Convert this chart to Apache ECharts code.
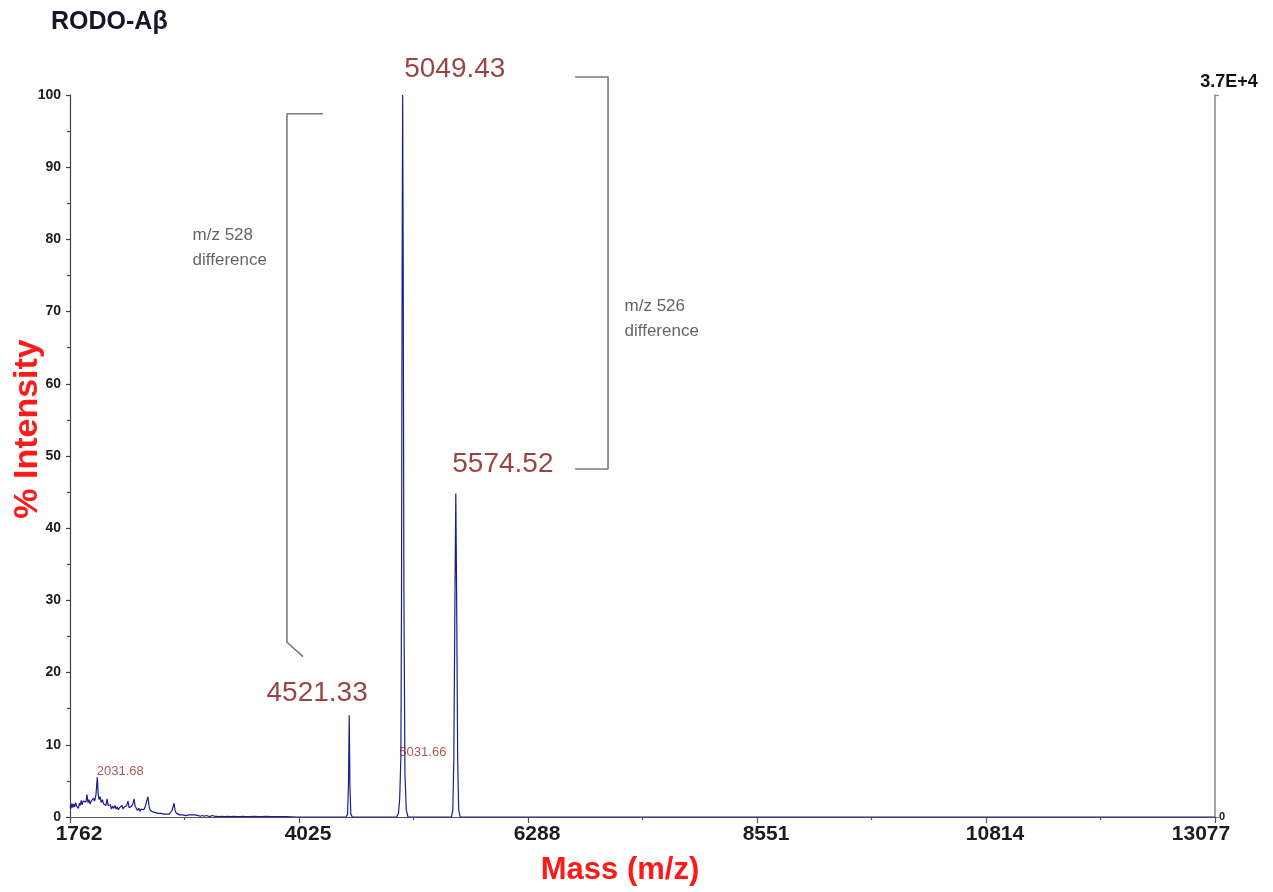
<!DOCTYPE html>
<html>
<head>
<meta charset="utf-8">
<script src="https://cdn.jsdelivr.net/npm/echarts@6/dist/echarts.min.js"></script>
<style>
  html, body { margin: 0; padding: 0; background: #fff; }
  #chart { width: 1273px; height: 892px; }
</style>
</head>
<body>
<div id="chart"></div>
<script>
// ---------- data ----------
const chartTitle = 'RODO-Aβ';
const xTicks = [1762, 4025, 6288, 8551, 10814, 13077];
const yTicks = [0, 10, 20, 30, 40, 50, 60, 70, 80, 90, 100];
const fullScaleCounts = 37000;      // right axis top: 3.7E+4

// spectrum: [mass (m/z), % intensity]
const spectrum = [
  [1762, 1.6], [1772, 1.2], [1781, 1.9], [1790, 1.3], [1799, 1.8], [1808, 1.4], [1818, 2.0],
  [1827, 1.5], [1836, 1.7], [1845, 1.2], [1855, 1.9], [1864, 1.6], [1873, 2.3], [1882, 1.7],
  [1892, 2.2], [1901, 2.0], [1910, 2.4], [1920, 2.1], [1930, 3.1], [1940, 2.0], [1950, 2.4],
  [1960, 1.8], [1972, 2.2], [1985, 2.0], [1995, 2.6], [2005, 2.2], [2018, 3.0], [2031.68, 5.5],
  [2040, 3.2], [2050, 2.4], [2060, 2.8], [2070, 2.0], [2082, 2.4], [2094, 1.8], [2106, 2.0],
  [2117, 1.6], [2128, 2.5], [2139, 1.6], [2150, 1.4], [2161, 1.7], [2172, 1.1], [2183, 1.5],
  [2195, 1.2], [2206, 1.6], [2218, 1.1], [2229, 1.4], [2240, 1.0], [2252, 1.3], [2263, 1.2],
  [2275, 1.6], [2286, 1.1], [2298, 1.4], [2310, 1.2], [2322, 1.6], [2335, 2.2], [2346, 1.3],
  [2358, 1.2], [2370, 1.5], [2383, 1.8], [2395, 2.5], [2406, 1.5], [2418, 1.2], [2430, 0.9],
  [2442, 1.2], [2454, 0.8], [2466, 1.1], [2478, 0.9], [2490, 1.0], [2502, 1.3], [2515, 1.4],
  [2533, 2.8], [2545, 1.3], [2557, 0.9], [2570, 1.0], [2582, 0.7], [2595, 0.9], [2608, 0.6],
  [2620, 0.8], [2633, 0.5], [2646, 0.7], [2660, 0.5], [2673, 0.6], [2686, 0.4], [2700, 0.6],
  [2714, 0.4], [2728, 0.5], [2742, 0.4], [2756, 0.6], [2770, 0.9], [2790, 1.9], [2802, 0.8],
  [2815, 0.5], [2830, 0.4], [2845, 0.3], [2860, 0.5], [2875, 0.3], [2890, 0.4], [2905, 0.2],
  [2920, 0.4], [2935, 0.3], [2950, 0.2], [2965, 0.3], [2980, 0.2], [2995, 0.3], [3010, 0.2],
  [3030, 0.2], [3050, 0.1], [3070, 0.2], [3090, 0.1], [3110, 0.2], [3130, 0.1], [3150, 0.1],
  [3170, 0.2], [3190, 0.1], [3215, 0.1], [3240, 0.05], [3265, 0.1], [3290, 0.05], [3320, 0.1],
  [3350, 0.05], [3380, 0.1], [3410, 0.05], [3440, 0.05], [3470, 0.1], [3500, 0.05], [3540, 0.05],
  [3580, 0.1], [3620, 0.05], [3660, 0.05], [3700, 0.1], [3740, 0.05], [3800, 0.05], [3900, 0.05],
  [4000, 0.0], [4200, 0.0], [4490, 0.0],
  [4505, 0.4], [4514, 4.5], [4521.33, 14.1], [4528, 4.5], [4537, 0.4], [4552, 0.0],
  [4990, 0.0], [5008, 0.5], [5020, 2.5], [5031.66, 8.3], [5038, 30], [5044, 75], [5049.43, 100],
  [5055, 75], [5062, 30], [5072, 6], [5085, 1.0], [5102, 0.0],
  [5532, 0.0], [5545, 1.0], [5555, 8], [5566, 30], [5574.52, 44.8], [5583, 30], [5593, 8],
  [5603, 1.0], [5618, 0.0], [6000, 0.0], [13077, 0.0]
];

// labelled peaks
const peakMass = [2031.68, 4521.33, 5031.66, 5049.43, 5574.52];
const peakIntensity = [5.5, 14.1, 8.3, 100, 44.8];
const peakLabels = ['2031.68', '4521.33', '5031.66', '5049.43', '5574.52'];

// difference brackets (mass, % intensity)
const bracket528 = [[4262, 97.4], [3906, 97.4], [3906, 24.2], [4065, 22.2]];
const bracket526 = [[6753, 102.5], [7079, 102.5], [7079, 48.2], [6753, 48.2]];

// bracket notes
const noteText = ['m/z 528\ndifference', 'm/z 526\ndifference'];
const noteMass = [2978, 7247];
const noteIntensity = [82.2, 72.4];

// ---------- styles ----------
const FONT = 'Arial, "Liberation Sans", Helvetica, sans-serif';
const bigLabel = { fontSize: 28, color: '#7e1515' };
const smallLabel = { fontSize: 13, color: '#992b2b' };
const peakLabelStyle = [
  Object.assign({ align: 'left', offset: [0, 1] }, smallLabel),
  Object.assign({ align: 'right', offset: [19, -7] }, bigLabel),
  Object.assign({ align: 'left', offset: [-1, 2] }, smallLabel),
  Object.assign({ align: 'left', offset: [2, -11] }, bigLabel),
  Object.assign({ align: 'left', offset: [-3, -15] }, bigLabel)
];

const peakData = peakMass.map((m, i) => ({
  value: [m, peakIntensity[i]],
  name: peakLabels[i],
  label: Object.assign({
    show: true,
    position: [0, 0],
    verticalAlign: 'bottom',
    fontFamily: FONT,
    formatter: '{b}'
  }, peakLabelStyle[i])
}));

const noteData = noteText.map((t, i) => ({
  value: [noteMass[i], noteIntensity[i]],
  name: t
}));

const bracketSeries = (data) => ({
  type: 'line',
  data: data,
  symbol: 'none',
  clip: false,
  silent: true,
  z: 1,
  lineStyle: { color: '#7a7a7a', width: 1.6 },
  animation: false
});

const chart = echarts.init(document.getElementById('chart'), null, { renderer: 'canvas' });

const option = {
  animation: false,
  backgroundColor: '#ffffff',
  textStyle: { fontFamily: FONT },
  title: {
    text: chartTitle,
    left: 51, top: 10, padding: 0,
    textStyle: { fontSize: 25, fontWeight: 'bold', color: '#16162a', fontFamily: FONT }
  },
  grid: { left: 70, right: 58, top: 95, bottom: 75, containLabel: false, outerBoundsMode: 'none' },
  xAxis: {
    type: 'value',
    min: xTicks[0],
    max: xTicks[xTicks.length - 1],
    interval: xTicks[1] - xTicks[0],
    name: 'Mass (m/z)',
    nameLocation: 'middle',
    nameGap: 38,
    nameMoveOverlap: false,
    nameTextStyle: { fontSize: 31, fontWeight: 'bold', color: '#ff1a1a', fontFamily: FONT, padding: [0, 45, 0, 0] },
    axisLine: { show: true, lineStyle: { color: '#555', width: 1.2 } },
    axisTick: { show: true, length: 6, inside: false, lineStyle: { color: '#555', width: 1.2 } },
    minorTick: { show: true, splitNumber: 2, length: 3, lineStyle: { color: '#555', width: 1.2 } },
    splitLine: { show: false },
    minorSplitLine: { show: false },
    axisLabel: {
      show: true, margin: 7, hideOverlap: false,
      showMinLabel: true, showMaxLabel: true,
      formatter: (v, idx) => (v === xTicks[xTicks.length - 1] ? '{b|' + v + '}' : '{a|' + v + '}'),
      rich: {
        a: { fontSize: 21, fontWeight: 'bold', color: '#1c1c1c', fontFamily: FONT, padding: [0, 0, 0, 18] },
        b: { fontSize: 21, fontWeight: 'bold', color: '#1c1c1c', fontFamily: FONT, padding: [0, 28, 0, 0] }
      }
    }
  },
  yAxis: [
    {
      type: 'value',
      min: yTicks[0],
      max: yTicks[yTicks.length - 1],
      interval: yTicks[1] - yTicks[0],
      name: '% Intensity',
      nameLocation: 'middle',
      nameRotate: 90,
      nameGap: 25,
      nameMoveOverlap: false,
      nameTextStyle: { fontSize: 34, fontWeight: 'bold', color: '#ff1a1a', fontFamily: FONT, padding: [0, 0, 0, 54] },
      axisLine: { show: true, lineStyle: { color: '#444', width: 1.2 } },
      axisTick: { show: true, length: 4, lineStyle: { color: '#444', width: 1.2 } },
      minorTick: { show: true, splitNumber: 2, length: 3, lineStyle: { color: '#444', width: 1.2 } },
      splitLine: { show: false },
      minorSplitLine: { show: false },
      axisLabel: { margin: 9, fontSize: 14, fontWeight: 'bold', color: '#1c1c1c', fontFamily: FONT }
    },
    {
      type: 'value',
      position: 'right',
      min: 0,
      max: fullScaleCounts,
      interval: fullScaleCounts,
      name: '3.7E+4',
      nameLocation: 'end',
      nameGap: 4,
      nameTextStyle: { fontSize: 18, fontWeight: 'bold', color: '#111', fontFamily: FONT, align: 'center', padding: [0, 0, 0, 28] },
      axisLine: { show: true, lineStyle: { color: '#8a8a8a', width: 1.5 } },
      axisTick: { show: true, length: 4, lineStyle: { color: '#8a8a8a', width: 1.2 } },
      splitLine: { show: false },
      axisLabel: {
        margin: 4, fontSize: 11, fontWeight: 'bold', color: '#222', fontFamily: FONT,
        formatter: (v) => (v === 0 ? '0' : '')
      }
    }
  ],
  series: [
    {
      name: 'spectrum',
      type: 'line',
      data: spectrum,
      symbol: 'none',
      z: 3,
      lineStyle: { color: '#1c1c8e', width: 1.2 },
      animation: false
    },
    bracketSeries(bracket528),
    bracketSeries(bracket526),
    {
      name: 'peaks',
      type: 'scatter',
      data: peakData,
      symbolSize: 1,
      itemStyle: { color: 'rgba(0,0,0,0)' },
      silent: true,
      z: 5,
      animation: false
    },
    {
      name: 'notes',
      type: 'scatter',
      data: noteData,
      symbolSize: 1,
      itemStyle: { color: 'rgba(0,0,0,0)' },
      silent: true,
      z: 5,
      label: {
        show: true, position: [0, 0], align: 'left', verticalAlign: 'top',
        formatter: '{b}', fontSize: 17, lineHeight: 25, color: '#3c3c3c', fontFamily: FONT
      },
      animation: false
    }
  ]
};

chart.setOption(option);
</script>
</body>
</html>
